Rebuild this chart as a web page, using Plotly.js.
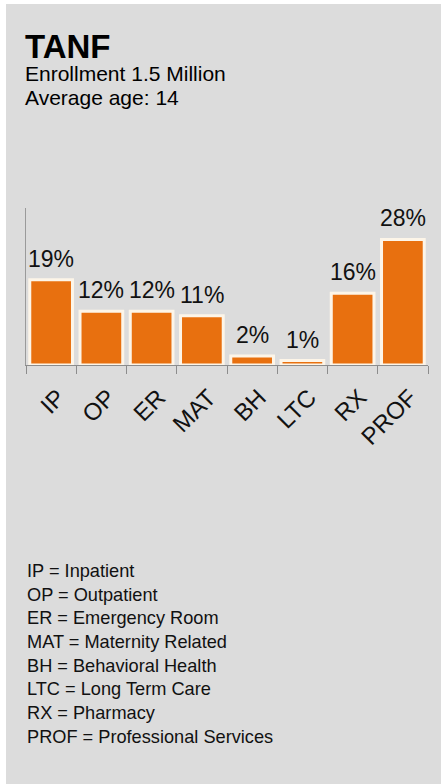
<!DOCTYPE html>
<html>
<head>
<meta charset="utf-8">
<script src="https://cdn.plot.ly/plotly-3.0.1.min.js"></script>
<style>
  html, body { margin: 0; padding: 0; background: #ffffff; }
  #chart { width: 441px; height: 784px; }
</style>
</head>
<body>
<div id="chart"></div>
<script>
// Spending share by service category
const categories = ['IP', 'OP', 'ER', 'MAT', 'BH', 'LTC', 'RX', 'PROF'];
const shares = [19, 12, 12, 11, 2, 1, 16, 28];

const programName = 'TANF';
const headerLines = ['Enrollment 1.5 Million', 'Average age: 14'];

const glossaryLines = [
  'IP = Inpatient',
  'OP = Outpatient',
  'ER = Emergency Room',
  'MAT = Maternity Related',
  'BH = Behavioral Health',
  'LTC = Long Term Care',
  'RX = Pharmacy',
  'PROF = Professional Services'
];

const W = 441, H = 784;
const FONT = 'Arial, "Liberation Sans", Helvetica, sans-serif';
const px = v => v / W;
const py = v => 1 - v / H;

const bars = {
  type: 'bar',
  x: categories,
  y: shares,
  marker: {
    color: '#e8700f',
    line: { color: '#fdf5e8', width: 3 }
  },
  hoverinfo: 'x+y'
};

const valueLabels = categories.map((c, i) => ({
  x: c,
  y: shares[i],
  xref: 'x',
  yref: 'y',
  text: shares[i] + '%',
  showarrow: false,
  yanchor: 'bottom',
  yshift: 6,
  font: { family: FONT, size: 23, color: '#111111' }
}));

const headerNotes = [
  {
    text: '<b>' + programName + '</b>',
    x: px(23), y: py(46.5), xanchor: 'left', yanchor: 'middle',
    font: { family: FONT, size: 33, color: '#000000' }
  },
  {
    text: headerLines[0],
    x: px(23), y: py(74), xanchor: 'left', yanchor: 'middle',
    font: { family: FONT, size: 21, color: '#000000' }
  },
  {
    text: headerLines[1],
    x: px(23), y: py(97.5), xanchor: 'left', yanchor: 'middle',
    font: { family: FONT, size: 21, color: '#000000' }
  },
  {
    text: glossaryLines.join('<br>'),
    x: px(25), y: py(653.5), xanchor: 'left', yanchor: 'middle', align: 'left',
    font: { family: FONT, size: 18.2, color: '#111111' }
  }
].map(a => Object.assign({ xref: 'paper', yref: 'paper', showarrow: false }, a));

const layout = {
  width: W,
  height: H,
  margin: { l: 0, r: 0, t: 0, b: 0, pad: 0 },
  paper_bgcolor: '#ffffff',
  plot_bgcolor: 'rgba(0,0,0,0)',
  showlegend: false,
  bargap: 0.15,
  font: { family: FONT, color: '#111111' },
  shapes: [{
    type: 'rect', xref: 'paper', yref: 'paper', layer: 'below',
    x0: px(6), x1: 1, y0: 0, y1: py(4),
    fillcolor: '#dcdcdc', line: { width: 0 }
  }],
  xaxis: {
    domain: [px(26), px(428)],
    type: 'category',
    showline: true,
    linecolor: '#8c8c8c',
    linewidth: 1,
    ticks: 'outside',
    tickson: 'boundaries',
    ticklen: 8,
    tickcolor: '#8c8c8c',
    tickangle: -45,
    ticklabelstandoff: 8,
    ticklabelshift: 7,
    tickfont: { family: FONT, size: 24, color: '#111111' },
    showgrid: false,
    zeroline: false,
    fixedrange: true
  },
  yaxis: {
    domain: [py(365), py(208)],
    range: [0, 35],
    showline: true,
    linecolor: '#9a9a9a',
    linewidth: 1,
    ticks: '',
    showticklabels: false,
    showgrid: false,
    zeroline: false,
    fixedrange: true
  },
  annotations: valueLabels.concat(headerNotes)
};

Plotly.newPlot('chart', [bars], layout, { displayModeBar: false, staticPlot: true });
</script>
</body>
</html>
